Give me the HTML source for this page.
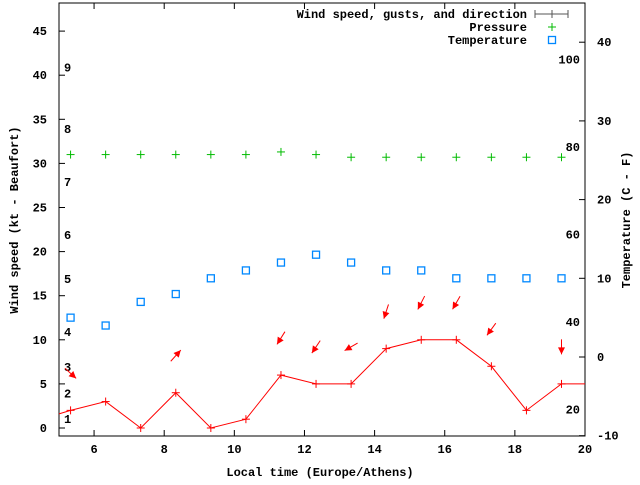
<!DOCTYPE html>
<html><head><meta charset="utf-8"><style>
body{margin:0;background:#fff}
svg text{font-family:"Liberation Mono",monospace;font-size:12px;font-weight:bold;fill:#000}
</style></head><body>
<svg id="c" width="640" height="480"></svg>
<script>
const hours=[5.33,6.33,7.33,8.33,9.33,10.33,11.33,12.33,13.33,14.33,15.33,16.33,17.33,18.33,19.33];
const windSpeed=[2,3,0,4,0,1,6,5,5,9,10,10,7,2,5];
const windDir=[132,null,null,42,null,null,212,214,240,198,207,210,216,null,180];
const pressure=[31,31,31,31,31,31,31.3,31,30.7,30.7,30.7,30.7,30.7,30.7,30.7];
const temperature=[5,4,7,8,10,11,12,13,12,11,11,10,10,10,10];
const xTicks=[6,8,10,12,14,16,18,20];
const yTicks=[0,5,10,15,20,25,30,35,40,45];
const y2Ticks=[-10,0,10,20,30,40];
const beaufort=[[1,1.0],[2,3.9],[3,6.9],[4,10.9],[5,16.9],[6,21.9],[7,27.9],[8,33.9],[9,40.9]];
const fahr=[20,40,60,80,100];
const L=59,R=585,T=3,B=436;
const X=v=>L+(v-5)*(R-L)/15;
const Y=v=>428-v*8.82;
const Y2=v=>357-v*7.87;
const svg=document.getElementById('c');
const NS='http://www.w3.org/2000/svg';
function el(t,a,p){const e=document.createElementNS(NS,t);for(const k in a)e.setAttribute(k,a[k]);(p||svg).appendChild(e);return e;}
function tx(x,y,s,anchor){const e=el('text',{x:x,y:y,'text-anchor':anchor||'start'});e.textContent=s;return e;}
let e;
e=el('rect',{x:L,y:T,width:R-L,height:B-T,fill:'none',stroke:'#000','stroke-width':1});

xTicks.forEach(v=>{el('line',{x1:X(v),x2:X(v),y1:B,y2:B-6,stroke:'#000'});el('line',{x1:X(v),x2:X(v),y1:T,y2:T+6,stroke:'#000'});
 e=tx(X(v),453,String(v),'middle');});
yTicks.forEach(v=>{el('line',{x1:L,x2:L+6,y1:Y(v),y2:Y(v),stroke:'#000'});
 e=tx(47,Y(v)+4,String(v),'end');});
y2Ticks.forEach(v=>{el('line',{x1:R,x2:R-6,y1:Y2(v),y2:Y2(v),stroke:'#000'});
 e=tx(597,Y2(v)+4,String(v));});
beaufort.forEach(b=>{e=tx(64,Y(b[1])+4,String(b[0]));});
fahr.forEach(f=>{const c=(f-32)*5/9;e=tx(580,Y2(c)+4,String(f),'end');});
e=tx(320,476,'Local time (Europe/Athens)','middle');
e=tx(0,0,'Wind speed (kt - Beaufort)','middle');e.setAttribute('transform','translate(18,220) rotate(-90)');

e=tx(0,0,'Temperature (C - F)','middle');e.setAttribute('transform','translate(630,220) rotate(-90)');

// wind line
let pts=[[L,Y(1.6)]].concat(hours.map((h,i)=>[X(h),Y(windSpeed[i])])).concat([[R,Y(windSpeed[windSpeed.length-1])]]);
e=el('polyline',{points:pts.map(p=>p.join(',')).join(' '),fill:'none',stroke:'#f00','stroke-width':1});

function plus(x,y,c,name){const g=el('g',{});
 el('line',{x1:x-4,x2:x+4,y1:y,y2:y,stroke:c},g);el('line',{x1:x,x2:x,y1:y-4,y2:y+4,stroke:c},g);}
hours.forEach((h,i)=>plus(X(h),Y(windSpeed[i]),'#f00','wind-point'));
hours.forEach((h,i)=>plus(X(h),Y(pressure[i]),'#0b0','pressure-point'));
hours.forEach((h,i)=>{e=el('rect',{x:X(h)-3.5,y:Y2(temperature[i])-3.5,width:7,height:7,fill:'none',stroke:'#08f','stroke-width':1.3});
 });
// arrows
hours.forEach((h,i)=>{const d=windDir[i];if(d===null)return;
 const cx=X(h),cy=Y(windSpeed[i]+4.2),a=d*Math.PI/180,ux=Math.sin(a),uy=-Math.cos(a),len=15;
 const tx0=cx-ux*len/2,ty0=cy-uy*len/2,hx=cx+ux*len/2,hy=cy+uy*len/2;
 const g=el('g',{});
 el('line',{x1:tx0,y1:ty0,x2:hx,y2:hy,stroke:'#f00'},g);
 const px=-uy,py=ux;
 el('polygon',{points:`${hx},${hy} ${hx-ux*7+px*3.5},${hy-uy*7+py*3.5} ${hx-ux*7-px*3.5},${hy-uy*7-py*3.5}`,fill:'#f00'},g);});
// legend
const lg=el('g',{});
const ln=['Wind speed, gusts, and direction','Pressure','Temperature'];
ln.forEach((s,i)=>{const y=14+i*13;e=el('text',{x:527,y:y+4,'text-anchor':'end'},lg);e.textContent=s;
 });
el('line',{x1:535,x2:568,y1:14,y2:14,stroke:'#555'},lg);el('line',{x1:535,x2:535,y1:10,y2:18,stroke:'#555'},lg);el('line',{x1:568,x2:568,y1:10,y2:18,stroke:'#555'},lg);
el('line',{x1:548,x2:556,y1:14,y2:14,stroke:'#555'},lg);el('line',{x1:552,x2:552,y1:10,y2:18,stroke:'#555'},lg);
el('line',{x1:548,x2:556,y1:27,y2:27,stroke:'#0b0'},lg);el('line',{x1:552,x2:552,y1:23,y2:31,stroke:'#0b0'},lg);
el('rect',{x:548.5,y:36.5,width:7,height:7,fill:'none',stroke:'#08f','stroke-width':1.3},lg);
</script>
</body></html>
